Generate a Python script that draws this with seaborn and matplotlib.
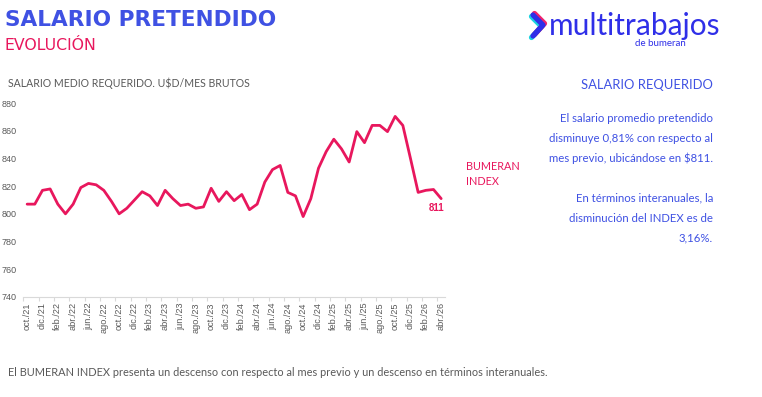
import numpy as np
import pandas as pd
import matplotlib
matplotlib.use('Agg')
import matplotlib.pyplot as plt
from matplotlib.lines import Line2D
import seaborn as sns

# monthly series, oct/21 .. abr/26 (U$D / mes brutos)
months = ['oct./21', 'nov./21', 'dic./21',
          'ene./22', 'feb./22', 'mar./22', 'abr./22', 'may./22', 'jun./22',
          'jul./22', 'ago./22', 'sep./22', 'oct./22', 'nov./22', 'dic./22',
          'ene./23', 'feb./23', 'mar./23', 'abr./23', 'may./23', 'jun./23',
          'jul./23', 'ago./23', 'sep./23', 'oct./23', 'nov./23', 'dic./23',
          'ene./24', 'feb./24', 'mar./24', 'abr./24', 'may./24', 'jun./24',
          'jul./24', 'ago./24', 'sep./24', 'oct./24', 'nov./24', 'dic./24',
          'ene./25', 'feb./25', 'mar./25', 'abr./25', 'may./25', 'jun./25',
          'jul./25', 'ago./25', 'sep./25', 'oct./25', 'nov./25', 'dic./25',
          'ene./26', 'feb./26', 'mar./26', 'abr./26']
salary = [807, 807, 817,
          818, 807, 800, 807, 819, 822,
          821, 817, 809, 800, 804, 810,
          816, 813, 806, 817, 811, 806,
          807, 804, 805, 818.5, 809, 816,
          809.5, 814, 803, 807, 823, 832,
          835, 815.5, 813, 798, 811, 833,
          845, 854, 847, 837.5, 859.5, 851.5,
          864, 864, 859.5, 870.5, 864, 840,
          815.5, 817, 817.6, 811]
y_ticks = [740, 760, 780, 800, 820, 840, 860, 880]

PINK = '#E8175D'
BLUE = '#3F51E3'
LOGO = '#2F2FE8'
GRAY = '#595959'
BODY = ['Lato', 'DejaVu Sans']

sns.set_theme(style='white')
plt.rcParams['font.family'] = ['Liberation Sans', 'DejaVu Sans']

df = pd.DataFrame({'idx': range(len(salary)), 'salary': salary})

fig = plt.figure(figsize=(7.62, 3.97), dpi=100)
fig.patch.set_facecolor('white')
ax = fig.add_axes([23.3 / 762, 1 - 296.7 / 397, (445 - 23.3) / 762, (296.7 - 103.3) / 397])

sns.lineplot(x='idx', y='salary', data=df, ax=ax, color=PINK, linewidth=2.0)

ax.set(xlim=(-0.5, len(salary) - 0.5), ylim=(740, 880), xlabel='', ylabel='')
ax.set_yticks(y_ticks)
ax.set_yticklabels([str(v) for v in y_ticks], fontsize=6.5, color=GRAY)
ax.set_xticks(range(0, len(salary), 2))
ax.set_xticklabels(months[::2], rotation=90, fontsize=6.6, color=GRAY)
ax.set_xticks(np.arange(-0.5, len(salary) - 0.5, 2), minor=True)
ax.tick_params(axis='x', which='major', length=0, pad=4)
ax.tick_params(axis='x', which='minor', length=3, width=0.8, color='#D9D9D9', bottom=True)
ax.tick_params(axis='y', length=0, pad=5)
for s in ['top', 'right', 'left']:
  ax.spines[s].set_visible(False)
ax.spines['bottom'].set_color('#D9D9D9')
ax.spines['bottom'].set_linewidth(0.8)
ax.grid(False)

ax.annotate(f'{salary[-1]:.0f}', (len(salary) - 1, salary[-1]), xytext=(-3, -6.5),
            textcoords='offset points', ha='center', va='center',
            fontsize=7, fontweight='bold', color=PINK)

# titles
fig.text(5 / 762, 1 - 20 / 397, 'SALARIO PRETENDIDO', fontsize=15.6, fontweight='bold',
         color=BLUE, va='center', family=['DejaVu Sans'])
fig.text(5 / 762, 1 - 45 / 397, 'EVOLUCIÓN', fontsize=11.3, color=PINK, va='center',
         family=['DejaVu Sans'])
fig.text(8 / 762, 1 - 83 / 397, 'SALARIO MEDIO REQUERIDO. U$D/MES BRUTOS', fontsize=7.6,
         color=GRAY, va='center', family=BODY)

fig.text(466 / 762, 1 - 174 / 397, 'BUMERAN\nINDEX', fontsize=7.8, color=PINK,
         va='center', ha='left', linespacing=1.35, family=BODY)

# right panel
fig.text(713 / 762, 1 - 85 / 397, 'SALARIO REQUERIDO', fontsize=9.4, color=BLUE,
         ha='right', va='center', family=BODY)
notes = ['El salario promedio pretendido', 'disminuye 0,81% con respecto al',
         'mes previo, ubicándose en $811.', '',
         'En términos interanuales, la', 'disminución del INDEX es de', '3,16%.']
for i, line in enumerate(notes):
  if line:
    fig.text(713 / 762, 1 - (118 + 20 * i) / 397, line, fontsize=8.2, color=BLUE,
             ha='right', va='center', family=BODY)

fig.text(8 / 762, 1 - 373 / 397,
         'El BUMERAN INDEX presenta un descenso con respecto al mes previo y un descenso en términos interanuales.',
         fontsize=7.95, color=GRAY, va='center', family=BODY)

# logo
for dx, dy, c in [(-1.5, 1.5, '#19D3E0'), (1.5, -1.5, '#F0226A'), (0, 0, LOGO)]:
  xs = np.array([533, 543, 533]) + dx
  ys = np.array([15, 25, 36]) + dy
  fig.add_artist(Line2D(xs / 762, 1 - ys / 397, color=c, linewidth=3.8,
                        solid_capstyle='round', solid_joinstyle='round'))
fig.text(549 / 762, 1 - 26 / 397, 'multitrabajos', fontsize=21.5, color=LOGO,
         va='center', ha='left', family=BODY)
fig.text(686 / 762, 1 - 43.5 / 397, 'de bumeran', fontsize=7, color=LOGO,
         va='center', ha='right', family=BODY)

fig.savefig('out.png', dpi=100, facecolor='white')
